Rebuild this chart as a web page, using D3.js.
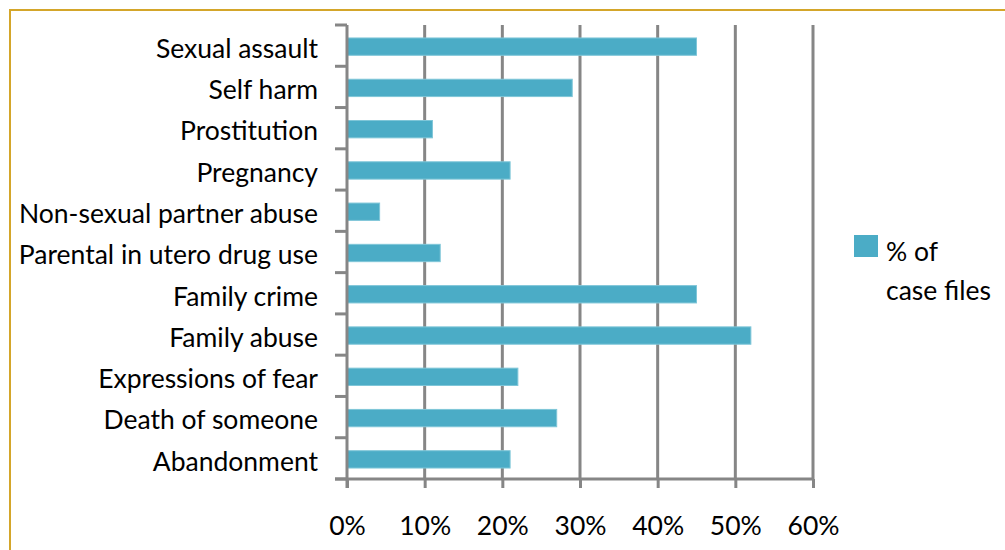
<!DOCTYPE html>
<html lang="en">
<head>
    <meta charset="UTF-8">
    <title>Case files</title>
    <script src="https://cdn.jsdelivr.net/npm/d3@7"></script>
    <style>
        body { margin: 0; background: #fff; }
        .axis path, .axis line {
            fill: none;
            stroke: #868686;
            stroke-width: 3;
        }
        .axis text, .label {
            font-family: Lato, sans-serif;
            font-size: 26.5px;
            fill: #000;
        }
        .grid line { stroke: #868686; stroke-width: 3; }
        .bar { fill: #4BACC6; stroke: #7fc6d8; stroke-width: 1; }
    </style>
</head>
<body>
<script>
    var width = 1005, height = 550;
    var svg = d3.select("body")
        .append("svg")
        .attr("width", width)
        .attr("height", height);

    // data, top to bottom
    var categories = ["Sexual assault", "Self harm", "Prostitution", "Pregnancy",
        "Non-sexual partner abuse", "Parental in utero drug use", "Family crime",
        "Family abuse", "Expressions of fear", "Death of someone", "Abandonment"];
    var values = [45, 29, 11, 21, 4.2, 12, 45, 52, 22, 27, 21];
    var xTicks = [0, 10, 20, 30, 40, 50, 60];
    var seriesName = ["% of", "case files"];

    // golden frame, cut off at right and bottom
    svg.append("rect")
        .attr("x", 10).attr("y", 10)
        .attr("width", 1010).attr("height", 560)
        .attr("fill", "none")
        .attr("stroke", "#D4A62A")
        .attr("stroke-width", 2);

    var padding = {left: 347, top: 25, right: 813, bottom: 479};

    var xScale = d3.scaleLinear()
        .domain([0, 60])
        .range([padding.left, padding.right]);
    var yScale = d3.scaleBand()
        .domain(categories)
        .range([padding.top, padding.bottom])
        .paddingInner(0.58)
        .paddingOuter(0.29);

    // vertical grid lines
    svg.append("g")
        .attr("class", "grid")
        .selectAll("line")
        .data(xTicks.slice(1))
        .enter()
        .append("line")
        .attr("x1", function (d) { return xScale(d); })
        .attr("x2", function (d) { return xScale(d); })
        .attr("y1", padding.top)
        .attr("y2", padding.bottom);

    // bars
    svg.selectAll(".bar")
        .data(values)
        .enter()
        .append("rect")
        .attr("class", "bar")
        .attr("x", xScale(0))
        .attr("y", function (d, i) { return yScale(categories[i]) + 1; })
        .attr("width", function (d) { return xScale(d) - xScale(0); })
        .attr("height", yScale.bandwidth());

    // x axis
    var xAxis = d3.axisBottom(xScale)
        .tickValues(xTicks)
        .tickSize(9)
        .tickPadding(28)
        .tickSizeOuter(0)
        .tickFormat(function (d) { return d + "%"; });
    var gx = svg.append("g")
        .attr("class", "axis")
        .attr("transform", "translate(0," + padding.bottom + ")")
        .call(xAxis);
    gx.select(".domain").attr("d", "M335,0H" + padding.right);

    // y axis: ticks at category boundaries
    var bounds = d3.range(categories.length + 1).map(function (i) {
        return padding.top + i * (padding.bottom - padding.top) / categories.length;
    });
    var gy = svg.append("g").attr("class", "axis");
    gy.append("line")
        .attr("x1", padding.left).attr("x2", padding.left)
        .attr("y1", padding.top).attr("y2", padding.bottom + 9);
    gy.selectAll(".ytick")
        .data(bounds)
        .enter()
        .append("line")
        .attr("class", "ytick")
        .attr("x1", 335).attr("x2", padding.left)
        .attr("y1", function (d) { return d; })
        .attr("y2", function (d) { return d; });

    // category labels
    svg.selectAll(".cat")
        .data(categories)
        .enter()
        .append("text")
        .attr("class", "label cat")
        .attr("x", 318)
        .attr("y", function (d) { return yScale(d) + yScale.bandwidth() / 2 + 3; })
        .attr("dy", "0.35em")
        .attr("text-anchor", "end")
        .text(function (d) { return d; });

    // legend
    svg.append("rect")
        .attr("x", 854).attr("y", 235)
        .attr("width", 24).attr("height", 22)
        .attr("fill", "#4BACC6");
    svg.selectAll(".leg")
        .data(seriesName)
        .enter()
        .append("text")
        .attr("class", "label leg")
        .attr("x", 886)
        .attr("y", function (d, i) { return 261 + i * 39; })
        .text(function (d) { return d; });
</script>
</body>
</html>
